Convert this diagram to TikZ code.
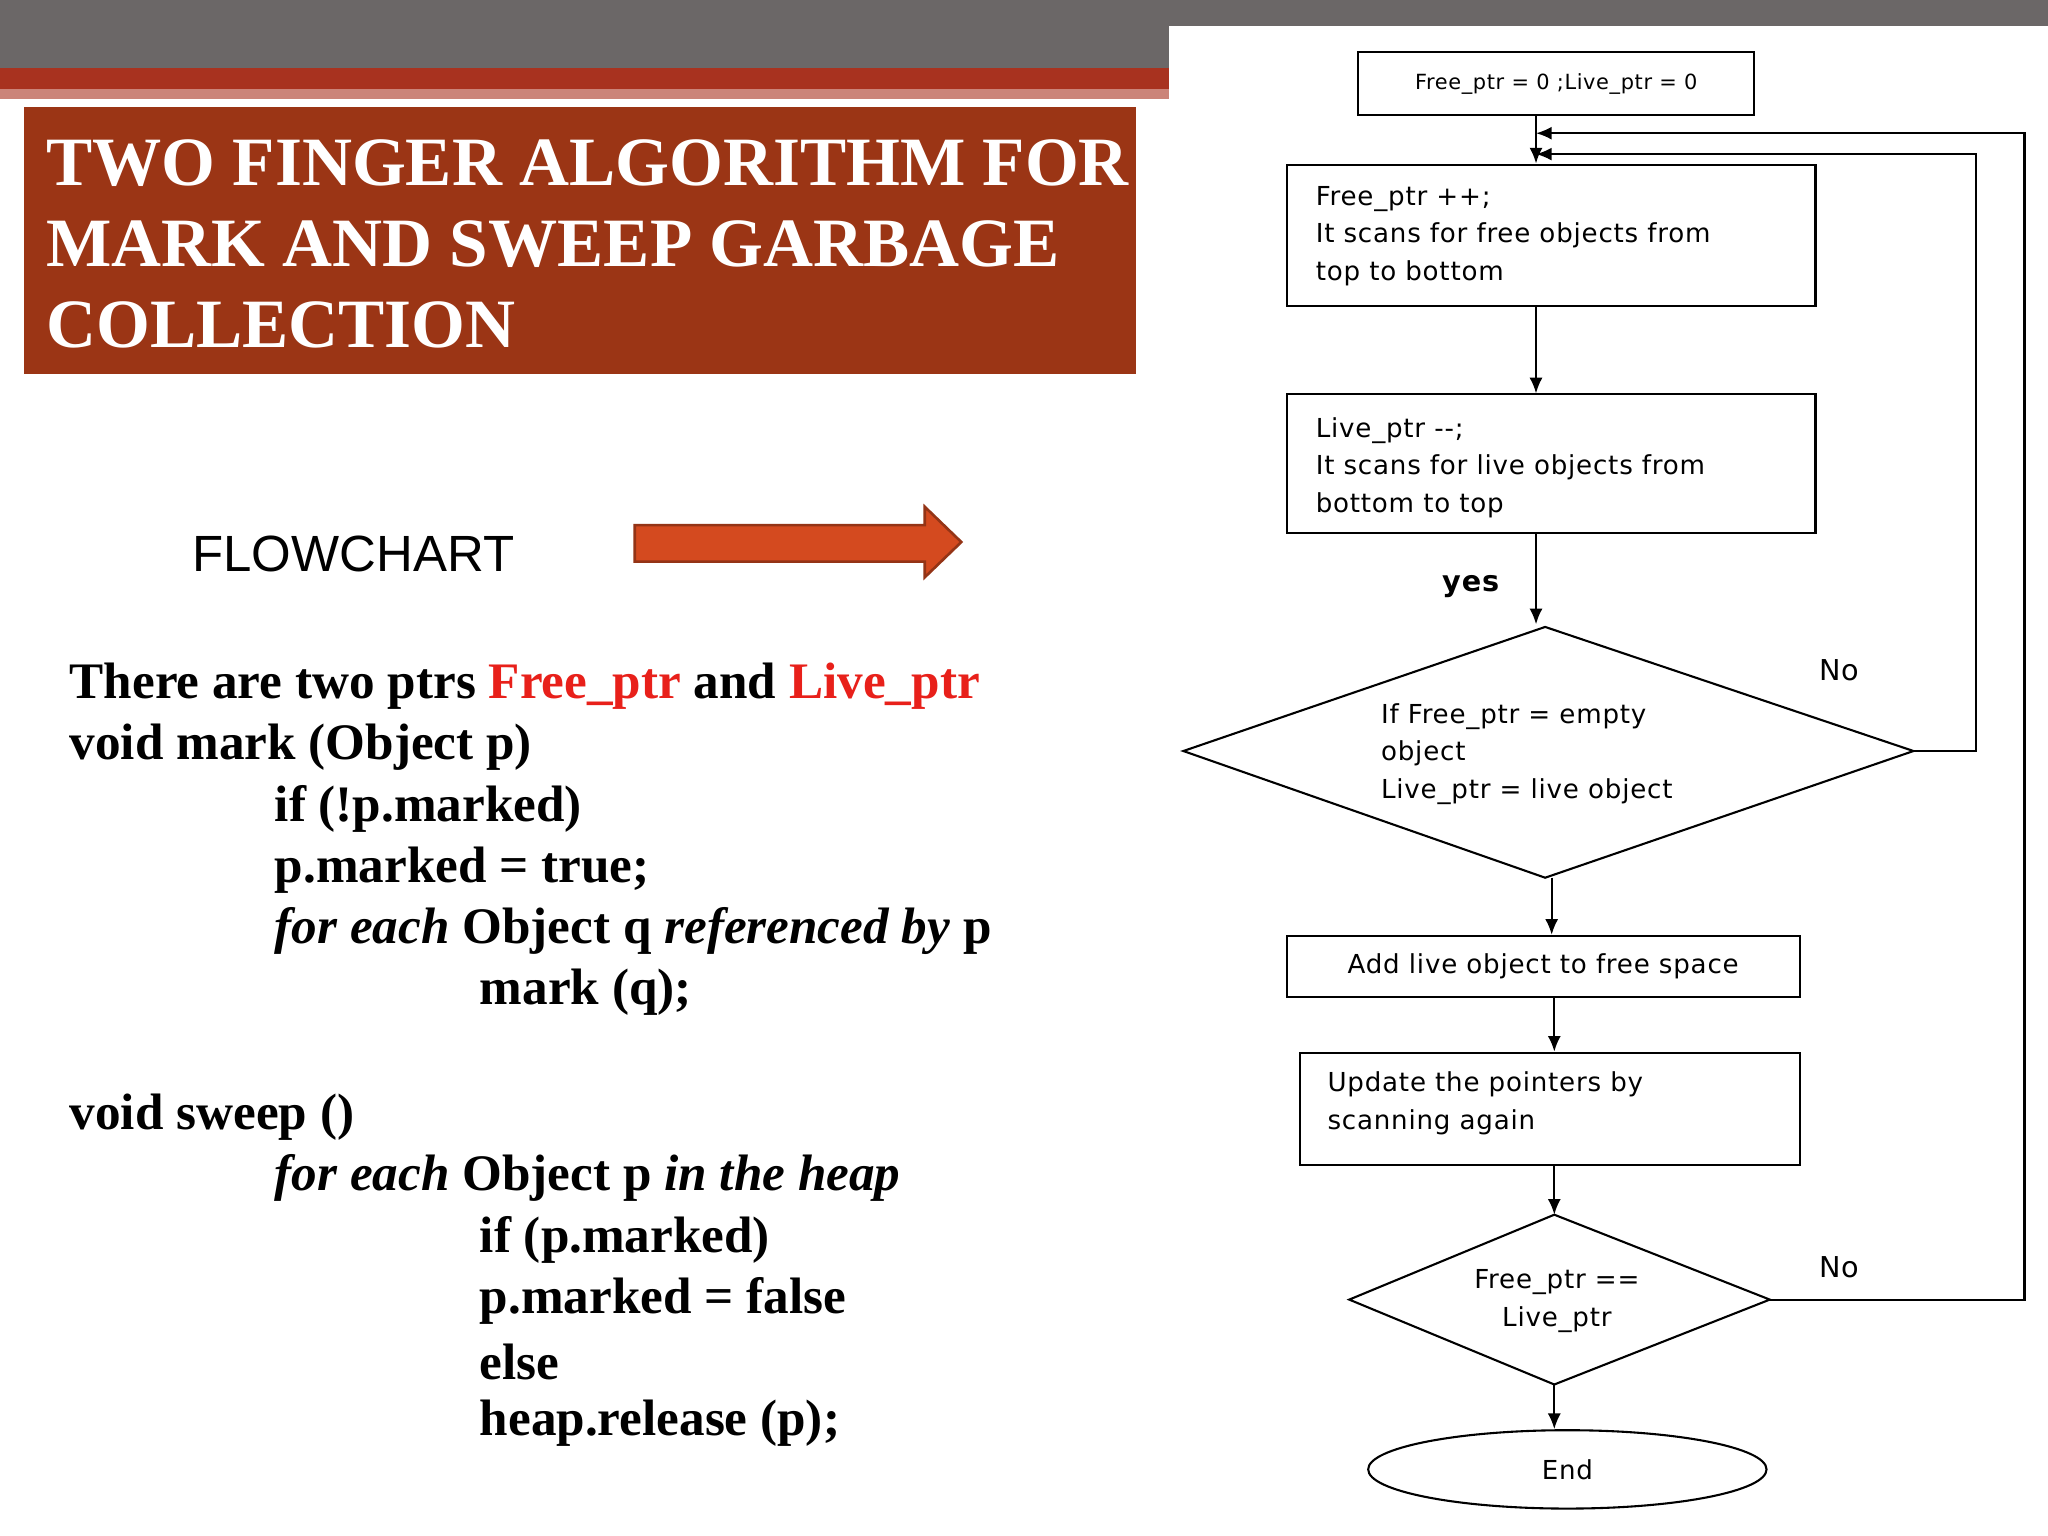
\documentclass[tikz,border=0pt]{standalone}
\usepackage{fontspec}
\setmainfont{Liberation Serif}
\newfontfamily\flowsans{Liberation Sans}
\newfontfamily\fcfont[LetterSpace=3]{DejaVu Sans}
\usetikzlibrary{shapes.geometric,arrows.meta}
\definecolor{bargray}{HTML}{6B6767}
\definecolor{stripe}{HTML}{A8321F}
\definecolor{titlered}{HTML}{9B3515}
\definecolor{arroworange}{HTML}{D44A1F}
\definecolor{kwred}{HTML}{E8201A}
\tikzset{
  body/.style={anchor=west,inner sep=0pt,font=\fontsize{19.6}{21}\selectfont\bfseries},
  ttl/.style={anchor=west,inner sep=0pt,font=\fontsize{26.5}{28}\selectfont\bfseries,text=white},
  fcbox/.style={draw,thick,inner sep=0pt,font=\fcfont\fontsize{10}{14.5}\selectfont},
  fctxt/.style={anchor=north west,inner sep=0pt,align=left,font=\fcfont\fontsize{10}{14.5}\selectfont},
  fcarrow/.style={thick,-{Latex[length=6pt,width=5pt]}}
}
\begin{document}
\begin{tikzpicture}[x=0.5pt,y=-0.5pt]
\useasboundingbox (0,0) rectangle (1568,1176);
\fill[white] (0,0) rectangle (1568,1176);
% header
\fill[bargray] (0,0) rectangle (1568,52);
\fill[stripe] (0,52) rectangle (895,68);
\fill[stripe!60!white] (0,68) rectangle (895,76);
\fill[white] (895,20) rectangle (1568,1176);
% title
\fill[titlered] (18,82) rectangle (870,286);
\node[ttl] (t1) at (35,125) {TWO FINGER ALGORITHM FOR};
\node[ttl] (t2) at (35,187) {MARK AND SWEEP GARBAGE};
\node[ttl] (t3) at (35,249) {COLLECTION};
% flowchart label and arrow
\node[anchor=west,inner sep=0pt,font=\flowsans\fontsize{19.5}{20}\selectfont] (fl) at (147,424) {FLOWCHART};
\draw[arroworange!70!black,fill=arroworange,line width=1pt] (486,402) -- (708,402) -- (708,388) -- (736,415) -- (708,442) -- (708,430) -- (486,430) -- cycle;
% code
\node[body] (l1) at (53,525) {There are two ptrs \textcolor{kwred}{Free\_ptr} and \textcolor{kwred}{Live\_ptr}};
\node[body] (l2) at (53,572) {void mark (Object p)};
\node[body] (l3) at (210,619) {if (!p.marked)};
\node[body] (l4) at (210,666) {p.marked = true;};
\node[body] (l5) at (210,713) {\textit{for each} Object q \textit{referenced by} p};
\node[body] (l6) at (367,760) {mark (q);};
\node[body] (l7) at (53,855) {void sweep ()};
\node[body] (l8) at (210,902) {\textit{for each} Object p \textit{in the heap}};
\node[body] (l9) at (367,949) {if (p.marked)};
\node[body] (l10) at (367,996) {p.marked = false};
\node[body] (l11) at (367,1043) {else};
\node[body] (l12) at (367,1090) {heap.release (p);};
% flowchart
\node[fcbox,minimum width=151.5pt,minimum height=24pt] (b1) at (1191.5,64) {\fontsize{8}{10}\selectfont Free\_ptr = 0 ;Live\_ptr = 0};
\node[fcbox,minimum width=202.5pt,minimum height=54pt] (b2) at (1187.5,180) {};
\node[fctxt] (b2t) at (1007,142) {Free\_ptr ++;\\It scans for free objects from\\top to bottom};
\node[fcbox,minimum width=202.5pt,minimum height=53pt] (b3) at (1187.5,355) {};
\node[fctxt] (b3t) at (1007,319) {Live\_ptr --;\\It scans for live objects from\\bottom to top};
\draw[thick] (906,575) coordinate (d1l) -- (1183,480) coordinate (d1t) -- (1465,575) coordinate (d1r) -- (1183,672) coordinate (d1b) -- cycle;
\node[fctxt] (d1txt) at (1057,538) {If Free\_ptr = empty\\object\\Live\_ptr = live object};
\node[fcbox,minimum width=196.5pt,minimum height=23.5pt] (b4) at (1181.5,740) {Add live object to free space};
\node[fcbox,minimum width=191.5pt,minimum height=43pt] (b5) at (1186.5,849) {};
\node[fctxt] (b5t) at (1016,820) {Update the pointers by\\scanning again};
\draw[thick] (1033,995) coordinate (d2l) -- (1190,930) coordinate (d2t) -- (1355,995) coordinate (d2r) -- (1190,1060) coordinate (d2b) -- cycle;
\node[fctxt,align=center,anchor=center] (d2txt) at (1192,996) {Free\_ptr ==\\Live\_ptr};
\node[draw,thick,ellipse,minimum width=152.5pt,minimum height=30pt,font=\fcfont\fontsize{10}{12}\selectfont] (end) at (1200,1125) {End};
% arrows
\draw[fcarrow] (b1.south -| 1176,0) -- (b2.north -| 1176,0);
\draw[fcarrow] (b2.south -| 1176,0) -- (b3.north -| 1176,0);
\draw[fcarrow] (b3.south -| 1176,0) -- (1176,478);
\node[font=\fcfont\bfseries\fontsize{11}{12}\selectfont] (yes) at (1126,449) {yes};
\draw[fcarrow] (d1b -| 1188,0) -- (b4.north -| 1188,0);
\draw[fcarrow] (b4.south -| 1190,0) -- (b5.north -| 1190,0);
\draw[fcarrow] (b5.south -| 1190,0) -- (d2t);
\draw[fcarrow] (d2b) -- (end.north -| 1190,0);
\coordinate (j1) at (1176,102);
\coordinate (j2) at (1176,118);
\draw[fcarrow] (d2r) -- (1550,995) -- (1550,102) -- (j1);
\draw[fcarrow] (d1r) -- (1513,575) -- (1513,118) -- (j2);
\node[font=\fcfont\fontsize{11}{12}\selectfont] (no1) at (1408,513) {No};
\node[font=\fcfont\fontsize{11}{12}\selectfont] (no2) at (1408,970) {No};
\end{tikzpicture}
\end{document}
